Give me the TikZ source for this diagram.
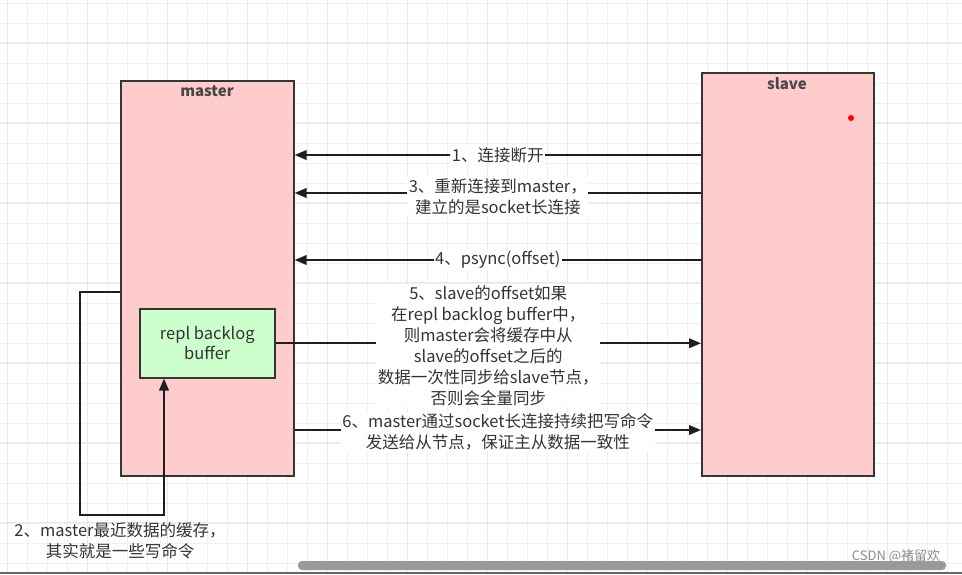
\documentclass[tikz,border=0pt]{standalone}
\usepackage{fontspec}
\setmainfont{Noto Sans CJK SC}
\usetikzlibrary{arrows.meta}
\definecolor{pinkc}{HTML}{FFCCCC}
\definecolor{greenc}{HTML}{CCFFCC}
\definecolor{txt}{HTML}{333333}
\definecolor{linec}{HTML}{1E1E1E}
\begin{document}
\begin{tikzpicture}[x=1pt,y=-1pt,
  gridc/.style={draw=black!6, line width=0.7pt},
  gridd/.style={draw=black!9, line width=0.9pt},
  box/.style={draw=linec!90, line width=1.6pt, fill=pinkc, inner sep=0pt},
  arr/.style={-{Triangle[length=12pt,width=9.5pt]}, line width=2pt, draw=linec},
  lab/.style={fill=white, text=txt, font=\fontsize{16.5}{21}\selectfont, align=center, inner sep=1.5pt},
  title/.style={text=txt!90, font=\bfseries\fontsize{15}{18}\selectfont, inner sep=0pt},
]
\useasboundingbox (0,0) rectangle (962,574);
\fill[white] (0,0) rectangle (962,574);
% background grid
\foreach \x in {7,27,...,962} \draw[gridc] (\x,0) -- (\x,574);
\foreach \y in {3,23,...,574} \draw[gridc] (0,\y) -- (962,\y);
\foreach \x in {7,87,...,962} \draw[gridd] (\x,0) -- (\x,574);
\foreach \y in {42,122,...,574} \draw[gridd] (0,\y) -- (962,\y);

% boxes
\node[box, minimum width=173pt, minimum height=395pt, anchor=north west] (master) at (120,80) {};
\node[title] (mtitle) at (207,91) {master};
\node[box, minimum width=172pt, minimum height=403pt, anchor=north west] (slave) at (701,72) {};
\node[title] (stitle) at (787,84) {slave};
\fill[red] (851,118) circle (3pt);
\node[box, fill=greenc, line width=1.5pt, minimum width=135pt, minimum height=69pt, anchor=north west,
      text=txt, font=\fontsize{16.5}{20}\selectfont, align=center] (buf) at (139,308) {repl backlog\\buffer};

% connectors
\draw[arr] (slave.west |- 0,155) -- node[lab]{1、连接断开} (master.east |- 0,155);
\draw[arr] (slave.west |- 0,193) -- node[lab, yshift=-4pt]{3、重新连接到master，\\建立的是socket长连接} (master.east |- 0,193);
\draw[arr] (slave.west |- 0,260) -- node[lab]{4、psync(offset)} (master.east |- 0,260);
\draw[arr] (buf.east) -- node[lab, yshift=-2pt]{5、slave的offset如果\\在repl backlog buffer中，\\则master会将缓存中从\\slave的offset之后的\\数据一次性同步给slave节点，\\否则会全量同步} (slave.west |- buf.east);
\draw[arr] (master.east |- 0,430) -- node[lab, yshift=-2pt]{6、master通过socket长连接持续把写命令\\发送给从节点，保证主从数据一致性} (slave.west |- 0,430);
\coordinate (c1) at (80,292);
\coordinate (c2) at (80,515);
\coordinate (c3) at (164,515);
\draw[arr] (master.west |- c1) -- (c1) -- (c2) -- (c3) -- (c3 |- buf.south);
\node[lab, fill=none] (l2) at (120,541) {2、master最近数据的缓存，\\其实就是一些写命令};

% screenshot artefacts
\node[text=black!45, font=\fontsize{13}{15}\selectfont, inner sep=0pt] (wm) at (896,556) {CSDN @褚留欢};
\fill[black!40, rounded corners=4pt] (298,561) rectangle (946,570);
\fill[black!60] (0,572) rectangle (962,574);
\end{tikzpicture}
\end{document}
